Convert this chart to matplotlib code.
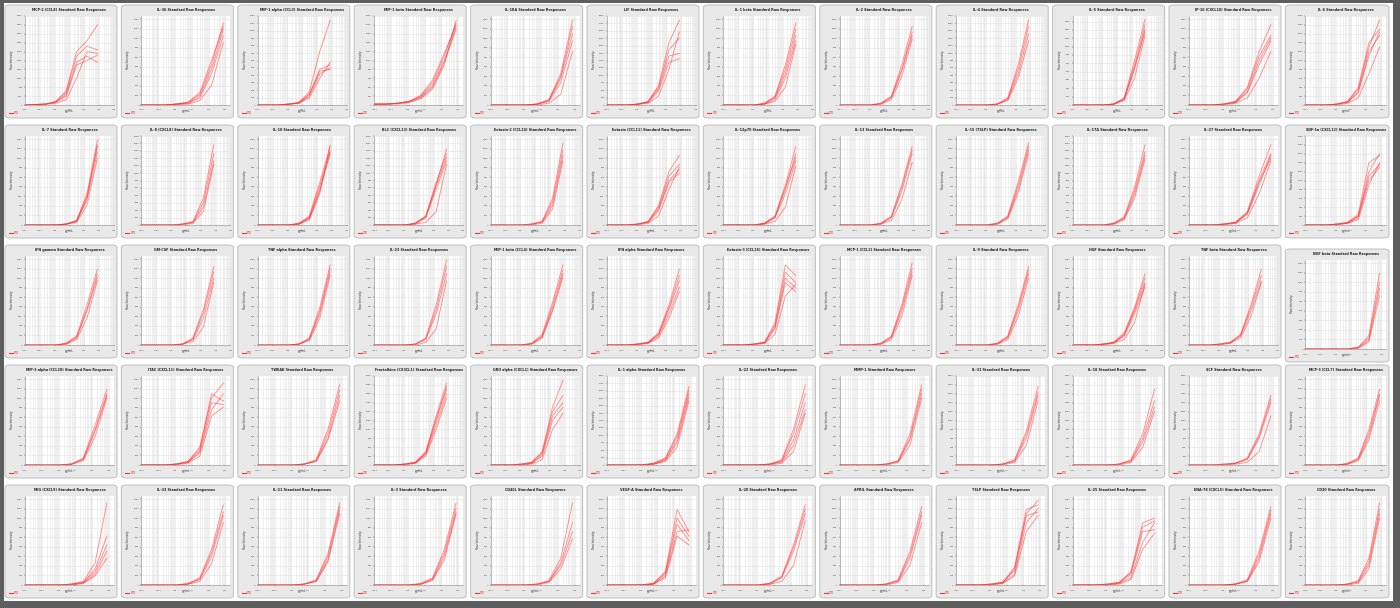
import matplotlib
matplotlib.use("Agg")
import matplotlib.pyplot as plt
from matplotlib.patches import FancyBboxPatch, Rectangle
from matplotlib.ticker import LogLocator, MaxNLocator, NullFormatter
import numpy as np

W, H = 1400, 608

# standard concentrations (pg/mL), same dilution series for every analyte
CONC = [0.01, 0.05, 0.25, 1.2, 6, 30, 150, 750]

TITLES = [
    ["MCP-2 (CCL8)", "IL-36", "MIP-1 alpha (CCL3)", "MIP-1 beta", "IL-1RA", "LIF",
     "IL-1 beta", "IL-2", "IL-4", "IL-5", "IP-10 (CXCL10)", "IL-6"],
    ["IL-7", "IL-8 (CXCL8)", "IL-10", "BLC (CXCL13)", "Eotaxin-2 (CCL24)", "Eotaxin (CCL11)",
     "IL-12p70", "IL-13", "IL-15 (TSLP)", "IL-17A", "IL-27", "SDF-1a (CXCL12)"],
    ["IFN gamma", "GM-CSF", "TNF alpha", "IL-23", "MIP-1 beta (CCL4)", "IFN alpha",
     "Eotaxin-3 (CCL26)", "MCP-1 (CCL2)", "IL-9", "HGF", "TNF beta", "NGF beta"],
    ["MIP-3 alpha (CCL20)", "ITAC (CXCL11)", "TWEAK", "Fractalkine (CX3CL1)", "GRO alpha (CXCL1)",
     "IL-1 alpha", "IL-22", "MMP-1", "IL-31", "IL-18", "SCF", "MCP-3 (CCL7)"],
    ["MIG (CXCL9)", "IL-33", "IL-21", "IL-3", "CD40L", "VEGF-A",
     "IL-20", "APRIL", "TSLP", "IL-25", "ENA-78 (CXCL5)", "CD30"],
]

# upper end of the x axis per panel
XMAX = [
    [10000, 2000, 10000, 2000, 2000, 10000, 10000, 10000, 10000, 10000, 2000, 2000],
    [10000, 10000, 10000, 10000, 10000, 10000, 10000, 10000, 10000, 10000, 2000, 2000],
    [10000, 10000, 10000, 10000, 10000, 10000, 10000, 10000, 10000, 10000, 10000, 2000],
    [2000, 2000, 2000, 10000, 10000, 2000, 2000, 2000, 2000, 2000, 2000, 2000],
    [2000, 2000, 2000, 2000, 2000, 2000, 2000, 2000, 2000, 2000, 2000, 2000],
]

# top of the y axis (raw intensity) per panel
YTOP = [
    [4000, 1400, 1200, 2000, 1400, 3000, 1400, 1400, 1800, 1600, 1400, 2000],
    [1400, 1800, 1400, 1800, 1400, 1400, 1400, 1400, 1400, 1800, 1400, 2000],
    [1400, 1400, 1400, 1400, 1400, 1400, 1400, 1400, 1400, 1400, 1400, 1400],
    [1400, 1400, 1400, 2500, 1400, 3000, 1400, 1400, 2000, 2000, 2000, 1400],
    [1400, 1400, 1400, 1400, 1400, 1400, 1400, 1400, 1400, 1400, 1400, 1400],
]

# responses in % of the y axis top, one list per standard curve
ROW1 = [
    [[0, 0.5, 1, 4, 16, 60, 72, 90], [0, 0.5, 1, 4, 14, 55, 66, 62], [0, 0.5, 1, 3, 12, 48, 55, 48],
     [0, 0.5, 1, 3, 10, 45, 50, 56], [0, 0.5, 1, 2, 6, 30, 60, 58]],
    [[0, 0, 0, 1, 3, 12, 45, 92], [0, 0, 0, 1, 2, 10, 40, 85], [0, 0, 0, 1, 2, 8, 35, 78],
     [0, 0, 0, 0.5, 1, 5, 22, 70], [0, 0, 0, 1, 3, 14, 50, 88]],
    [[0, 0, 0, 1, 3, 15, 60, 95], [0, 0, 0, 1, 3, 12, 40, 45], [0, 0, 0, 1, 2, 10, 35, 42],
     [0, 0, 0, 0.5, 2, 8, 30, 48], [0, 0, 0, 1, 2, 12, 38, 40]],
    [[1, 1, 2, 4, 10, 25, 55, 92], [1, 1, 2, 4, 9, 22, 50, 88], [1, 1, 2, 3, 8, 20, 48, 85],
     [1, 1, 1, 3, 7, 18, 45, 95], [1, 1, 2, 4, 11, 28, 58, 90]],
    [[0, 0, 0, 0, 1, 6, 35, 95], [0, 0, 0, 0, 1, 5, 30, 80], [0, 0, 0, 0, 1, 4, 25, 72],
     [0, 0, 0, 0, 0, 2, 12, 60], [0, 0, 0, 0, 1, 6, 32, 88]],
    [[0, 0, 0, 1, 4, 22, 70, 95], [0, 0, 0, 1, 4, 20, 62, 75], [0, 0, 0, 1, 3, 18, 55, 58],
     [0, 0, 0, 1, 3, 16, 48, 52], [0, 0, 0, 0.5, 2, 10, 40, 82]],
    [[0, 0, 0, 0, 2, 10, 45, 92], [0, 0, 0, 0, 2, 9, 40, 85], [0, 0, 0, 0, 1, 8, 35, 78],
     [0, 0, 0, 0, 1, 6, 30, 72], [0, 0, 0, 0, 1, 4, 20, 68]],
    [[0, 0, 0, 0, 2, 10, 45, 88], [0, 0, 0, 0, 2, 9, 40, 82], [0, 0, 0, 0, 1, 8, 38, 78],
     [0, 0, 0, 0, 1, 6, 32, 74]],
    [[0, 0, 0, 0, 1, 8, 45, 95], [0, 0, 0, 0, 1, 7, 40, 88], [0, 0, 0, 0, 1, 6, 35, 80],
     [0, 0, 0, 0, 1, 5, 30, 72]],
    [[0, 0, 0, 0, 1, 8, 50, 96], [0, 0, 0, 0, 1, 7, 45, 90], [0, 0, 0, 0, 1, 6, 40, 85],
     [0, 0, 0, 0, 1, 5, 30, 78], [0, 0, 0, 0, 1, 7, 42, 82]],
    [[0, 0, 0, 1, 4, 20, 60, 90], [0, 0, 0, 1, 4, 18, 55, 78], [0, 0, 0, 1, 3, 15, 50, 75],
     [0, 0, 0, 1, 3, 14, 45, 72], [0, 0, 0, 0, 2, 8, 30, 60]],
    [[0, 0, 0, 1, 4, 20, 70, 85], [0, 0, 0, 1, 4, 18, 65, 95], [0, 0, 0, 1, 3, 15, 60, 78],
     [0, 0, 0, 1, 3, 14, 55, 82], [0, 0, 0, 0, 2, 8, 35, 65]],
]

ROW2 = [
    [[0, 0, 0, 0, 1, 5, 35, 95], [0, 0, 0, 0, 1, 4, 30, 88], [0, 0, 0, 0, 1, 4, 28, 82],
     [0, 0, 0, 0, 1, 3, 22, 75], [0, 0, 0, 0, 1, 5, 32, 90]],
    [[0, 0, 0, 0, 1, 4, 30, 90], [0, 0, 0, 0, 1, 3, 25, 80], [0, 0, 0, 0, 1, 3, 20, 72],
     [0, 0, 0, 0, 0, 2, 15, 68]],
    [[0, 0, 0, 0, 2, 10, 48, 88], [0, 0, 0, 0, 2, 9, 44, 84], [0, 0, 0, 0, 1, 8, 40, 82],
     [0, 0, 0, 0, 1, 7, 38, 80], [0, 0, 0, 0, 1, 6, 35, 90]],
    [[0, 0, 0, 0, 2, 10, 48, 80], [0, 0, 0, 0, 2, 9, 44, 76], [0, 0, 0, 0, 1, 8, 40, 72],
     [0, 0, 0, 0, 1, 3, 15, 68], [0, 0, 0, 0, 2, 10, 45, 85]],
    [[0, 0, 0, 0, 1, 4, 30, 92], [0, 0, 0, 0, 1, 4, 26, 84], [0, 0, 0, 0, 1, 3, 22, 78],
     [0, 0, 0, 0, 0, 2, 18, 72]],
    [[0, 0, 0, 1, 4, 22, 60, 78], [0, 0, 0, 1, 4, 20, 55, 68], [0, 0, 0, 1, 3, 18, 50, 62],
     [0, 0, 0, 1, 3, 16, 48, 58], [0, 0, 0, 0, 2, 10, 40, 65]],
    [[0, 0, 0, 0, 2, 10, 45, 88], [0, 0, 0, 0, 2, 9, 40, 80], [0, 0, 0, 0, 1, 8, 35, 72],
     [0, 0, 0, 0, 1, 4, 20, 66], [0, 0, 0, 0, 2, 9, 42, 76]],
    [[0, 0, 0, 0, 2, 10, 45, 88], [0, 0, 0, 0, 2, 9, 42, 84], [0, 0, 0, 0, 1, 8, 38, 80],
     [0, 0, 0, 0, 1, 5, 28, 70]],
    [[0, 0, 0, 0, 2, 10, 48, 92], [0, 0, 0, 0, 2, 9, 44, 88], [0, 0, 0, 0, 1, 8, 40, 84],
     [0, 0, 0, 0, 1, 7, 36, 80]],
    [[0, 0, 0, 0, 2, 9, 42, 90], [0, 0, 0, 0, 2, 8, 38, 82], [0, 0, 0, 0, 1, 7, 34, 78],
     [0, 0, 0, 0, 1, 6, 30, 74]],
    [[0, 0, 0, 1, 3, 15, 55, 90], [0, 0, 0, 1, 3, 14, 50, 80], [0, 0, 0, 1, 3, 13, 48, 75],
     [0, 0, 0, 1, 2, 12, 45, 78], [0, 0, 0, 0, 2, 8, 35, 72]],
    [[0, 0, 0, 1, 3, 12, 70, 78], [0, 0, 0, 1, 3, 10, 60, 80], [0, 0, 0, 1, 2, 8, 55, 68],
     [0, 0, 0, 0, 2, 6, 45, 70], [0, 0, 0, 1, 2, 10, 50, 65]],
]

ROW3 = [
    [[0, 0, 0, 0, 2, 10, 45, 85], [0, 0, 0, 0, 2, 9, 40, 80], [0, 0, 0, 0, 1, 8, 38, 76],
     [0, 0, 0, 0, 1, 6, 30, 72]],
    [[0, 0, 0, 0, 1, 8, 40, 88], [0, 0, 0, 0, 1, 7, 36, 82], [0, 0, 0, 0, 1, 6, 30, 75],
     [0, 0, 0, 0, 1, 4, 20, 70]],
    [[0, 0, 0, 0, 1, 8, 42, 90], [0, 0, 0, 0, 1, 7, 38, 86], [0, 0, 0, 0, 1, 6, 35, 82],
     [0, 0, 0, 0, 1, 5, 30, 78]],
    [[0, 0, 0, 0, 1, 8, 45, 95], [0, 0, 0, 0, 1, 7, 40, 88], [0, 0, 0, 0, 1, 6, 35, 80],
     [0, 0, 0, 0, 0, 3, 18, 72]],
    [[0, 0, 0, 0, 2, 12, 48, 90], [0, 0, 0, 0, 2, 10, 44, 84], [0, 0, 0, 0, 1, 9, 40, 80],
     [0, 0, 0, 0, 1, 8, 38, 76]],
    [[0, 0, 0, 1, 3, 14, 45, 85], [0, 0, 0, 1, 3, 12, 40, 72], [0, 0, 0, 1, 2, 10, 35, 65],
     [0, 0, 0, 0, 2, 8, 30, 60], [0, 0, 0, 1, 3, 12, 42, 78]],
    [[0, 0, 0, 1, 3, 25, 90, 78], [0, 0, 0, 1, 3, 22, 82, 70], [0, 0, 0, 1, 3, 20, 75, 64],
     [0, 0, 0, 1, 2, 18, 70, 60], [0, 0, 0, 0, 2, 12, 55, 68]],
    [[0, 0, 0, 0, 2, 10, 45, 92], [0, 0, 0, 0, 2, 9, 42, 86], [0, 0, 0, 0, 1, 8, 38, 82],
     [0, 0, 0, 0, 1, 6, 32, 78]],
    [[0, 0, 0, 0, 2, 10, 45, 88], [0, 0, 0, 0, 2, 9, 42, 84], [0, 0, 0, 0, 1, 8, 38, 80],
     [0, 0, 0, 0, 1, 6, 32, 75]],
    [[0, 0, 0, 1, 3, 12, 40, 75], [0, 0, 0, 1, 3, 11, 38, 70], [0, 0, 0, 1, 2, 10, 35, 65],
     [0, 0, 0, 0, 2, 6, 25, 68], [0, 0, 0, 1, 3, 14, 42, 80]],
    [[0, 0, 0, 1, 3, 12, 45, 85], [0, 0, 0, 1, 3, 11, 42, 78], [0, 0, 0, 1, 2, 10, 38, 72],
     [0, 0, 0, 0, 2, 8, 32, 70]],
    [[0, 0, 0, 0, 0, 2, 15, 85], [0, 0, 0, 0, 0, 2, 12, 75], [0, 0, 0, 0, 0, 1, 10, 68],
     [0, 0, 0, 0, 0, 1, 8, 60]],
]

ROW4 = [
    [[0, 0, 0, 0, 1, 8, 45, 85], [0, 0, 0, 0, 1, 7, 40, 80], [0, 0, 0, 0, 1, 6, 38, 78],
     [0, 0, 0, 0, 1, 5, 32, 75]],
    [[0, 0, 0, 1, 4, 20, 75, 92], [0, 0, 0, 1, 4, 18, 80, 72], [0, 0, 0, 1, 3, 15, 70, 68],
     [0, 0, 0, 1, 3, 14, 62, 80], [0, 0, 0, 0, 2, 10, 55, 65]],
    [[0, 0, 0, 0, 1, 6, 40, 90], [0, 0, 0, 0, 1, 5, 35, 84], [0, 0, 0, 0, 1, 4, 30, 78],
     [0, 0, 0, 0, 1, 4, 28, 72]],
    [[0, 0, 0, 1, 3, 15, 55, 92], [0, 0, 0, 1, 3, 13, 50, 85], [0, 0, 0, 1, 2, 12, 45, 80],
     [0, 0, 0, 0, 2, 10, 40, 75], [0, 0, 0, 1, 3, 14, 52, 88]],
    [[0, 0, 0, 1, 3, 15, 65, 95], [0, 0, 0, 1, 3, 14, 60, 78], [0, 0, 0, 1, 2, 12, 55, 70],
     [0, 0, 0, 0, 2, 10, 50, 65], [0, 0, 0, 0, 1, 6, 40, 58]],
    [[0, 0, 0, 0, 2, 8, 35, 88], [0, 0, 0, 0, 2, 7, 32, 84], [0, 0, 0, 0, 1, 6, 28, 80],
     [0, 0, 0, 0, 1, 5, 25, 76], [0, 0, 0, 0, 1, 4, 20, 72]],
    [[0, 0, 0, 0, 1, 6, 40, 90], [0, 0, 0, 0, 1, 5, 35, 80], [0, 0, 0, 0, 1, 4, 28, 70],
     [0, 0, 0, 0, 1, 3, 22, 62], [0, 0, 0, 0, 0, 2, 15, 58]],
    [[0, 0, 0, 0, 1, 5, 35, 90], [0, 0, 0, 0, 1, 4, 30, 85], [0, 0, 0, 0, 1, 4, 28, 80],
     [0, 0, 0, 0, 0, 3, 22, 75]],
    [[0, 0, 0, 0, 1, 6, 38, 88], [0, 0, 0, 0, 1, 5, 34, 82], [0, 0, 0, 0, 1, 4, 30, 78],
     [0, 0, 0, 0, 0, 3, 22, 72]],
    [[0, 0, 0, 0, 1, 6, 35, 85], [0, 0, 0, 0, 1, 5, 30, 72], [0, 0, 0, 0, 1, 4, 26, 65],
     [0, 0, 0, 0, 0, 3, 20, 60]],
    [[0, 0, 0, 1, 2, 8, 35, 78], [0, 0, 0, 1, 2, 7, 32, 74], [0, 0, 0, 0, 2, 6, 30, 70],
     [0, 0, 0, 0, 1, 3, 15, 55]],
    [[0, 0, 0, 0, 2, 8, 40, 85], [0, 0, 0, 0, 1, 7, 36, 80], [0, 0, 0, 0, 1, 6, 32, 78],
     [0, 0, 0, 0, 1, 5, 28, 72]],
]

ROW5 = [
    [[0, 0, 0, 0, 1, 4, 25, 92], [0, 0, 0, 0, 1, 3, 18, 55], [0, 0, 0, 0, 1, 3, 15, 45],
     [0, 0, 0, 0, 0, 2, 12, 38], [0, 0, 0, 0, 0, 2, 10, 30]],
    [[0, 0, 0, 0, 2, 8, 40, 90], [0, 0, 0, 0, 1, 7, 36, 82], [0, 0, 0, 0, 1, 6, 32, 78],
     [0, 0, 0, 0, 1, 4, 24, 70]],
    [[0, 0, 0, 0, 1, 6, 35, 92], [0, 0, 0, 0, 1, 5, 32, 88], [0, 0, 0, 0, 1, 4, 28, 84],
     [0, 0, 0, 0, 1, 4, 26, 80]],
    [[0, 0, 0, 0, 2, 8, 40, 92], [0, 0, 0, 0, 1, 7, 36, 86], [0, 0, 0, 0, 1, 6, 32, 82],
     [0, 0, 0, 0, 1, 5, 28, 80]],
    [[0, 0, 0, 0, 1, 5, 30, 92], [0, 0, 0, 0, 1, 4, 25, 70], [0, 0, 0, 0, 1, 4, 22, 60],
     [0, 0, 0, 0, 0, 3, 18, 52]],
    [[0, 0, 0, 0, 2, 15, 85, 60], [0, 0, 0, 0, 2, 14, 75, 55], [0, 0, 0, 0, 1, 12, 68, 50],
     [0, 0, 0, 0, 1, 10, 60, 62], [0, 0, 0, 0, 1, 8, 55, 45]],
    [[0, 0, 0, 0, 2, 10, 45, 90], [0, 0, 0, 0, 2, 9, 42, 85], [0, 0, 0, 0, 1, 8, 38, 80],
     [0, 0, 0, 0, 1, 4, 22, 72]],
    [[0, 0, 0, 0, 1, 6, 38, 88], [0, 0, 0, 0, 1, 5, 34, 82], [0, 0, 0, 0, 1, 4, 30, 78],
     [0, 0, 0, 0, 0, 3, 22, 70]],
    [[0, 0, 0, 1, 3, 20, 85, 90], [0, 0, 0, 1, 3, 18, 80, 95], [0, 0, 0, 1, 3, 16, 78, 82],
     [0, 0, 0, 0, 2, 12, 70, 86], [0, 0, 0, 0, 2, 10, 60, 78]],
    [[0, 0, 0, 1, 3, 15, 70, 75], [0, 0, 0, 1, 3, 14, 65, 72], [0, 0, 0, 1, 2, 12, 60, 62],
     [0, 0, 0, 0, 2, 8, 48, 70], [0, 0, 0, 0, 1, 6, 40, 58]],
    [[0, 0, 0, 0, 1, 6, 38, 88], [0, 0, 0, 0, 1, 5, 34, 84], [0, 0, 0, 0, 1, 4, 30, 80],
     [0, 0, 0, 0, 1, 4, 26, 75]],
    [[0, 0, 0, 0, 1, 5, 30, 92], [0, 0, 0, 0, 1, 4, 26, 85], [0, 0, 0, 0, 1, 3, 22, 80],
     [0, 0, 0, 0, 0, 2, 18, 75]],
]

ROWS = [ROW1, ROW2, ROW3, ROW4, ROW5]


def fx(x):
    return x / W


def fy(y):
    return 1 - y / H


fig = plt.figure(figsize=(W / 100, H / 100), dpi=100, facecolor="#5e5e5e")

# white page behind the panels
fig.patches.append(Rectangle((fx(4), fy(601)), fx(1389), 598 / H, transform=fig.transFigure,
                             facecolor="white", edgecolor="none", zorder=0))

for r in range(5):
    for c in range(12):
        x0 = 5 + c * 116.4
        y0 = 5 + r * 120
        pw, ph = 112, 113
        if c == 11:
            pw = 1389 - x0
        if r == 2 and c == 11:
            y0 += 4

        box = FancyBboxPatch((fx(x0), fy(y0 + ph)), fx(pw), ph / H,
                             boxstyle="round,pad=0,rounding_size=0.004",
                             transform=fig.transFigure, facecolor="#e9e9e9",
                             edgecolor="#c4c4c4", linewidth=0.8, zorder=1)
        fig.patches.append(box)

        aw = pw - 23
        ax = fig.add_axes([fx(x0 + 20), fy(y0 + 100), fx(aw), 89 / H])
        ax.set_facecolor("white")
        ax.set_zorder(2)

        ytop = YTOP[r][c]
        for pct in ROWS[r][c]:
            vals = np.array(pct) * ytop / 100.0
            ax.plot(CONC, vals, color="#ff3030", lw=0.7, alpha=0.5)

        ax.set_xscale("log")
        ax.set_xlim(CONC[0], XMAX[r][c])
        ax.set_ylim(0, ytop)
        ax.xaxis.set_major_locator(LogLocator(base=10))
        ax.xaxis.set_minor_locator(LogLocator(base=10, subs=np.arange(2, 10)))
        ax.xaxis.set_minor_formatter(NullFormatter())
        ax.yaxis.set_major_locator(MaxNLocator(12))
        ax.grid(True, which="both", axis="x", color="#e4e4e4", lw=0.4)
        ax.grid(True, which="major", axis="y", color="#e4e4e4", lw=0.4)
        ax.tick_params(labelsize=1.6, length=1, width=0.3, pad=0.8, colors="#444")
        ax.tick_params(which="minor", length=0)
        for sp in ax.spines.values():
            sp.set_color("#8c8c8c")
            sp.set_linewidth(0.4)
        ax.spines["top"].set_visible(False)
        ax.spines["right"].set_visible(False)

        cx = x0 + 20 + aw / 2
        fig.text(fx(cx), fy(y0 + 5), TITLES[r][c] + " Standard Raw Responses",
                 ha="center", va="center", fontsize=2.4, color="#222", weight="bold")
        fig.text(fx(x0 + 7), fy(y0 + 55), "Raw Intensity", rotation=90,
                 ha="center", va="center", fontsize=2.0, color="#333")
        fig.text(fx(cx), fy(y0 + 106), "pg/mL", ha="center", va="center",
                 fontsize=2.0, color="#333")
        # small legend swatch at the bottom left
        fig.lines.append(plt.Line2D([fx(x0 + 4), fx(x0 + 8)], [fy(y0 + 108), fy(y0 + 108)],
                                    transform=fig.transFigure, color="#ff3030", lw=0.8))
        fig.text(fx(x0 + 9), fy(y0 + 108), "STD", ha="left", va="center",
                 fontsize=1.8, color="#d02020")

fig.savefig("out.png", dpi=100, facecolor=fig.get_facecolor())
